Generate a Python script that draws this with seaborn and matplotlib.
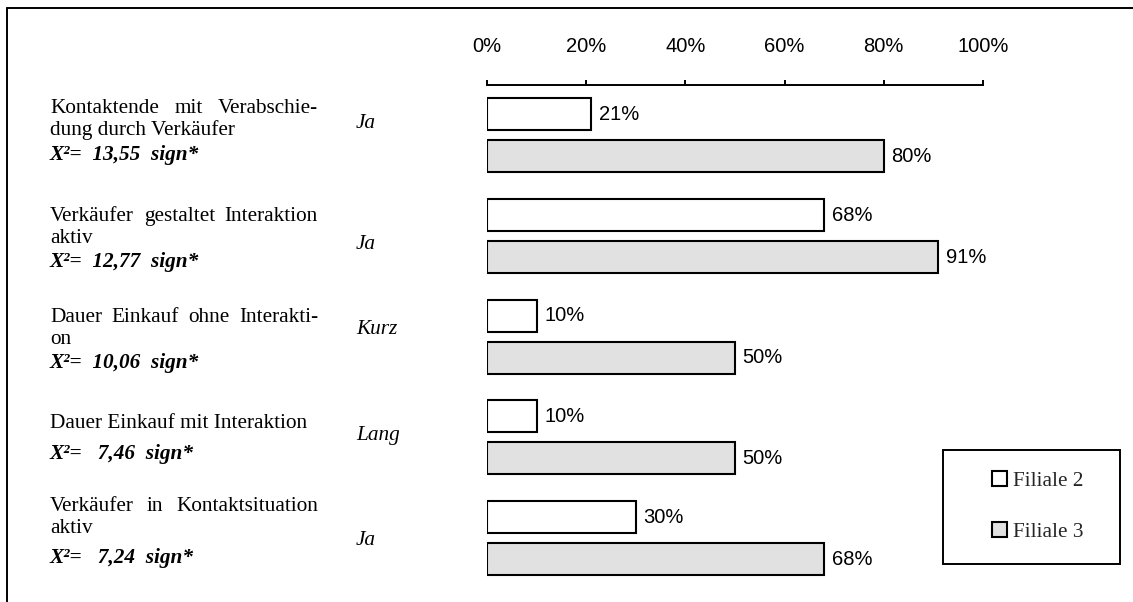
import pandas as pd
import matplotlib
matplotlib.use("Agg")
import matplotlib.pyplot as plt
import seaborn as sns
from matplotlib import transforms
from matplotlib.lines import Line2D
from matplotlib.patches import Patch, Rectangle

# --- Daten ---
merkmale = ["Kontaktende mit Verabschiedung durch Verkäufer",
            "Verkäufer gestaltet Interaktion aktiv",
            "Dauer Einkauf ohne Interaktion",
            "Dauer Einkauf mit Interaktion",
            "Verkäufer in Kontaktsituation aktiv"]
zeilen = [["Kontaktende mit Verabschie-", "dung durch Verkäufer"],
          ["Verkäufer gestaltet Interaktion", "aktiv"],
          ["Dauer Einkauf ohne Interakti-", "on"],
          ["Dauer Einkauf mit Interaktion"],
          ["Verkäufer in Kontaktsituation", "aktiv"]]
chi2 = ["13,55", "12,77", "10,06", " 7,46", " 7,24"]
auspraegung = ["Ja", "Ja", "Kurz", "Lang", "Ja"]
filiale2 = [21, 68, 10, 10, 30]
filiale3 = [80, 91, 50, 50, 68]
filialen = ["Filiale 2", "Filiale 3"]
farben = ["white", "#e1e1e1"]

df = pd.DataFrame({
    "Merkmal": merkmale * 2,
    "Filiale": [filialen[0]] * 5 + [filialen[1]] * 5,
    "Anteil": filiale2 + filiale3,
})

sns.set_theme(style="white")
plt.rcParams["font.family"] = ["Liberation Sans", "DejaVu Sans"]

W, H = 1133, 602
fig = plt.figure(figsize=(W / 100, H / 100), dpi=100)
ax = fig.add_axes([487 / W, 1 - 588.4 / H, (983 - 487) / W, (588.4 - 85) / H])

sns.barplot(data=df, x="Anteil", y="Merkmal", hue="Filiale", orient="h",
            palette=farben, edgecolor="black", linewidth=1.5,
            width=0.834, gap=0.24, legend=False, ax=ax)

for cont in ax.containers:
    ax.bar_label(cont, labels=[f"{v:.0f}%" for v in cont.datavalues],
                 padding=5.5, fontsize=14.5, color="black")

ax.set_xlim(0, 100)
ax.set_ylim(4.5, -0.5)
ax.set_xticks(range(0, 101, 20))
ax.set_xticklabels([f"{x}%" for x in range(0, 101, 20)])
ax.xaxis.tick_top()
ax.tick_params(axis="x", direction="out", length=3.6, width=1.4, pad=17.5,
               labelsize=14.5, colors="black")
ax.set_yticks([])
ax.set_xlabel("")
ax.set_ylabel("")
for s in ["left", "right", "bottom"]:
    ax.spines[s].set_visible(False)
ax.spines["top"].set_color("black")
ax.spines["top"].set_linewidth(1.4)

# --- Beschriftung links ---
trans = transforms.blended_transform_factory(fig.transFigure, ax.transData)
renderer = fig.canvas.get_renderer()
px = 1 / 100.75  # Pixel -> Dateneinheit (Abstand der Gruppen)
serif = dict(family="Liberation Serif", size=15.3, color="black")


def zeile(y, text, blocksatz):
    woerter = text.split()
    if not blocksatz or len(woerter) < 2:
        ax.text(50 / W, y, text, transform=trans, va="center", ha="left",
                clip_on=False, **serif)
        return
    objs = [ax.text(0, y, w, transform=trans, va="center", ha="left",
                    clip_on=False, **serif) for w in woerter]
    breiten = [t.get_window_extent(renderer).width for t in objs]
    luecke = (318 - 50 - sum(breiten)) / (len(objs) - 1)
    x = 50
    for t, b in zip(objs, breiten):
        t.set_x(x / W)
        x += b + luecke


# Lage der Textblöcke je Gruppe (Pixel relativ zur Gruppenmitte)
chi_offset = [20, 25.5, 26.5, 16.5, 20]
chi_abstand = [25, 23, 24, 30, 30]
kat_offset = [-12, 8, -7, -2, 2]
for i, (z, c, a) in enumerate(zip(zeilen, chi2, auspraegung)):
    y_chi = i + chi_offset[i] * px
    ax.text(50 / W, y_chi, f"X²=  {c}  sign*", transform=trans, va="center",
            ha="left", clip_on=False, fontweight="bold", fontstyle="italic",
            **serif)
    for k, text in enumerate(z):
        y = y_chi - (chi_abstand[i] + 22 * (len(z) - 1 - k)) * px
        zeile(y, text, blocksatz=(k < len(z) - 1))
    ax.text(356 / W, i + kat_offset[i] * px, a, transform=trans, va="center",
            ha="left", clip_on=False, fontstyle="italic", **serif)

# --- Legende ---
handles = [Patch(facecolor=f, edgecolor="black", linewidth=1.5) for f in farben]
fig.legend(handles, filialen, loc="center",
           bbox_to_anchor=(1038 / W, 1 - 506.5 / H), frameon=False,
           prop={"family": "Liberation Serif", "size": 15.3},
           handlelength=0.7, handleheight=0.7, handletextpad=0.3,
           labelspacing=1.5)
fig.add_artist(Rectangle((943 / W, 1 - 564 / H), 177 / W, 114 / H,
                         transform=fig.transFigure, fill=False,
                         edgecolor="black", linewidth=1.4))

# --- Rahmen ---
fig.add_artist(Line2D([7 / W, 1], [1 - 8 / H, 1 - 8 / H],
                      transform=fig.transFigure, color="black", linewidth=1.4))
fig.add_artist(Line2D([7 / W, 7 / W], [0, 1 - 8 / H],
                      transform=fig.transFigure, color="black", linewidth=1.4))

fig.savefig("out.png", dpi=100, facecolor="white")
